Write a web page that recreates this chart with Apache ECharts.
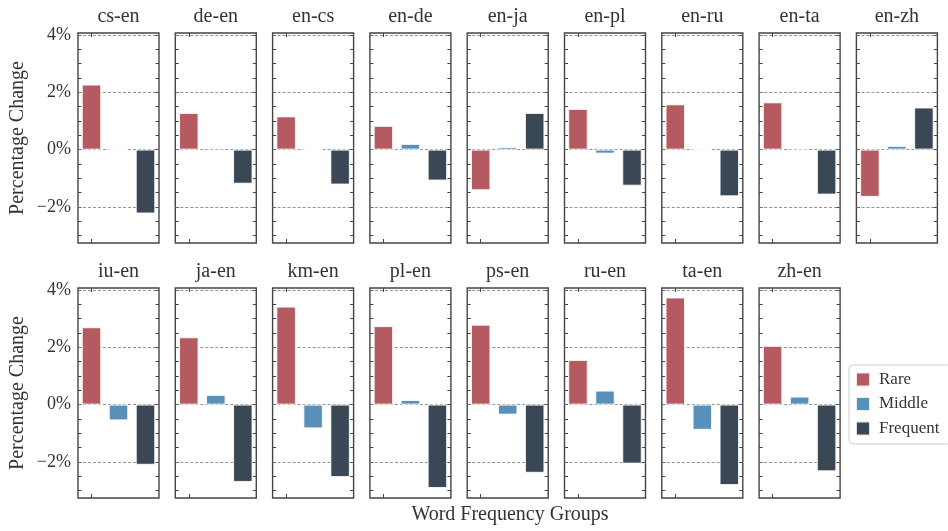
<!DOCTYPE html>
<html><head><meta charset="utf-8">
<script src="https://cdn.jsdelivr.net/npm/echarts@6/dist/echarts.min.js"></script>
<style>html,body{margin:0;padding:0;background:#fff}#c{width:948px;height:531px}</style>
</head><body><div id="c"></div>
<script>
const pairs = ['cs-en','de-en','en-cs','en-de','en-ja','en-pl','en-ru','en-ta','en-zh',
               'iu-en','ja-en','km-en','pl-en','ps-en','ru-en','ta-en','zh-en'];
const groups = ['Rare','Middle','Frequent'];
const rare     = [2.27, 1.28, 1.16, 0.83, -1.42, 1.42, 1.58, 1.65, -1.65, 2.70, 2.35, 3.42, 2.74, 2.79, 1.56, 3.74, 2.05];
const middle   = [0.00, -0.05, 0.00, 0.20, 0.09, -0.14, -0.01, -0.04, 0.13, -0.55, 0.34, -0.83, 0.16, -0.35, 0.49, -0.88, 0.28];
const frequent = [-2.23, -1.19, -1.22, -1.08, 1.28, -1.26, -1.63, -1.57, 1.47, -2.10, -2.70, -2.53, -2.91, -2.38, -2.06, -2.81, -2.33];
const majorTicks = [-2, 0, 2, 4];
const minorTicks = [-3, -2.5, -2, -1.5, -1, -0.5, 0, 0.5, 1, 1.5, 2, 2.5, 3, 3.5, 4];
const yMin = -3.26, yMax = 4.07;

const colors = ['#b55a60', '#5890ba', '#3a4856'];
const FONT = '"Liberation Serif", "DejaVu Serif", serif';
const TXT = '#333333';
const FRAME = '#444444';

const grid = [], xAxis = [], yAxis = [], series = [], title = [];
const values = [rare, middle, frequent];
pairs.forEach((p, i) => {
  const row = i < 9 ? 0 : 1;
  const col = i % 9;
  const left = 78 + col * 97.3;
  const top = row ? 288 : 33;
  grid.push({left: left, top: top, width: 81, height: 210, containLabel: false,
    show: true, borderColor: FRAME, borderWidth: 1.4, backgroundColor: 'transparent'});
  title.push({text: p, left: left + 40.5, top: top - 26, textAlign: 'center', padding: 0,
    textStyle: {fontFamily: FONT, fontSize: 20, fontWeight: 'normal', color: TXT}});
  const axLine = {show: false, onZero: false};
  ['bottom', 'top'].forEach(pos => {
    xAxis.push({type: 'category', gridIndex: i, position: pos, data: groups,
      boundaryGap: true, axisLine: axLine,
      axisTick: {show: true, inside: true, alignWithLabel: true, length: 4, lineStyle: {color: FRAME}},
      axisLabel: {show: false}, splitLine: {show: false}});
  });
  ['left', 'right'].forEach(pos => {
    const isLeftCol = pos === 'left' && col === 0;
    yAxis.push({type: 'value', gridIndex: i, position: pos, min: yMin, max: yMax,
      axisLine: axLine,
      axisTick: {show: true, inside: true, length: 3.5, customValues: minorTicks, lineStyle: {color: FRAME}},
      axisLabel: {show: isLeftCol, customValues: majorTicks, margin: 7,
        fontFamily: FONT, fontSize: 18, color: TXT,
        formatter: v => (v < 0 ? '\u2212' : '') + Math.abs(v) + '%'},
      splitLine: {show: false},
      name: isLeftCol ? 'Percentage Change' : '', nameLocation: 'middle', nameGap: 50,
      nameTextStyle: {fontFamily: FONT, fontSize: 20, color: TXT}});
  });
  groups.forEach((g, k) => {
    const d = groups.map((_, j) => j === k ? values[k][i] : '-');
    const s = {type: 'bar', name: g, xAxisIndex: 2 * i, yAxisIndex: 2 * i, data: d,
      stack: 'p' + i, barWidth: 19.5, z: 3,
      itemStyle: {color: colors[k], borderColor: 'rgba(255,255,255,0.85)', borderWidth: 1},
      emphasis: {disabled: true}};
    if (k === 0) {
      s.markLine = {silent: true, symbol: 'none', z: 1, label: {show: false},
        lineStyle: {type: [3, 2], color: '#777', width: 0.8},
        data: majorTicks.map(v => ({yAxis: v}))};
    }
    series.push(s);
  });
});
title.push({text: 'Word Frequency Groups', left: 510, top: 505, textAlign: 'center', padding: 0,
  textStyle: {fontFamily: FONT, fontSize: 20, fontWeight: 'normal', color: TXT}});

const chart = echarts.init(document.getElementById('c'), null, {renderer: 'canvas'});
chart.setOption({
  animation: false,
  backgroundColor: '#fff',
  title, grid, xAxis, yAxis, series,
  legend: {data: groups, orient: 'vertical', left: 849, top: 365,
    padding: [6, 12, 7, 6], itemGap: 7.5, itemWidth: 14, itemHeight: 14, icon: 'rect',
    backgroundColor: '#fff', borderColor: '#cccccc', borderWidth: 1, borderRadius: 4,
    textStyle: {fontFamily: FONT, fontSize: 17, color: TXT, lineHeight: 17, padding: [0, 0, 0, 4]},
    selectedMode: false}
});
</script></body></html>
